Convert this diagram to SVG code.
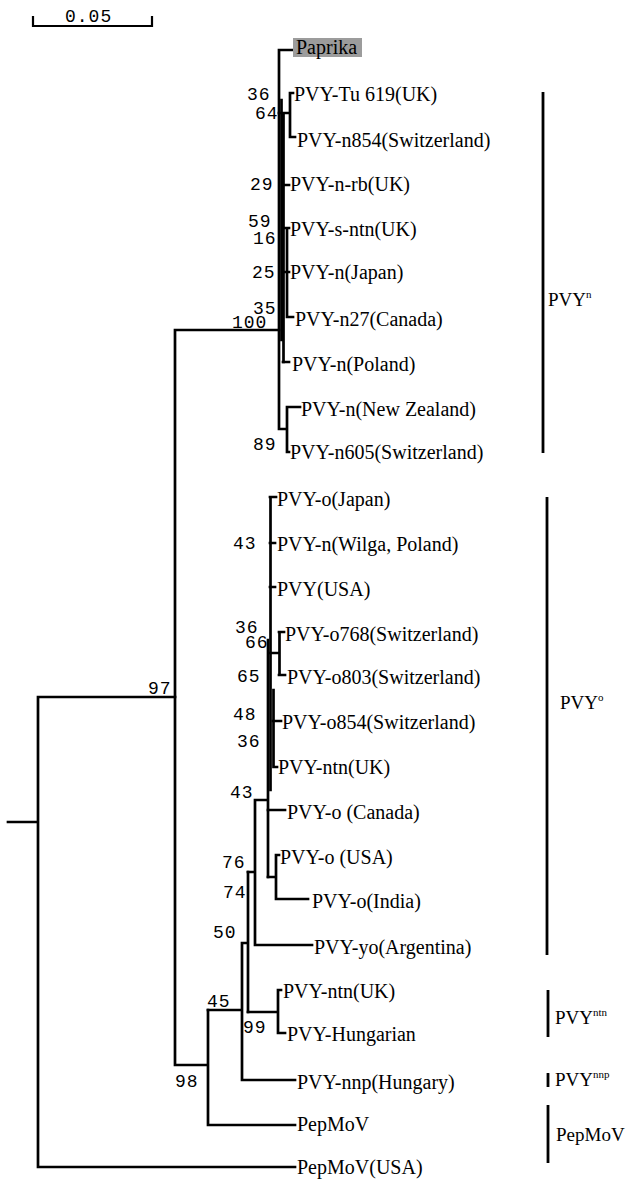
<svg xmlns="http://www.w3.org/2000/svg" width="635" height="1182" viewBox="0 0 635 1182">
<style>
.leaf{font-family:"Liberation Serif","Times New Roman",serif;font-size:20px;fill:#000}
.bs{font-family:"Liberation Mono","Courier New",monospace;font-size:18px;letter-spacing:1px;fill:#000}
.clade{font-family:"Liberation Serif","Times New Roman",serif;font-size:19px;fill:#000}
.sup{font-size:11px}
.tree{fill:none;stroke:#000;stroke-width:2.7;stroke-linecap:square;stroke-linejoin:miter}
.bar{fill:none;stroke:#000;stroke-width:2.8}
</style>
<rect width="635" height="1182" fill="#fff"/>
<g id="scale">
<path d="M33 16V26H152V16" fill="none" stroke="#000" stroke-width="2.2"/>
<text class="bs" x="65" y="22">0.05</text>
</g>
<g id="connectors" class="tree">
<path d="M8 822H38M38 697V1167M38 697H175M38 1167H295"/>
<path d="M175 330V1065M175 330H279M175 1065H208M208 1010V1125M208 1125H295"/>
<path d="M208 1010H242M242 943V1080M242 1080H295M242 943H248M248 872V1012"/>
<path d="M248 1012H278M278 990V1033M278 990H281M278 1033H285"/>
<path d="M248 872H255M255 800V945M255 945H312M255 800H268M268 640V877"/>
<path d="M268 877H276M276 855V899M276 855H279M276 899H308M268 810H285"/>
<path d="M270.5 497V790M270 497H276M270 543H275M270 587H275"/>
<path d="M270 653H279M279.5 632V675M279 632H284M279 675H285"/>
<path d="M273.5 690V767M273 721H281M273.5 767H277"/>
<path d="M279 50V429M279 50H293M279 429H287M287 407V452M287 407H300M287 452H289"/>
<path d="M281.5 100V340M283.5 113V362M279 113H290M290 93V137M290 93H293M290 137H295"/>
<path d="M283 185H289M283 228H289M283 272H289M283 362H289M287 230V317M287 317H293"/>
</g>
<g id="bootstrap">
<text class="bs" x="247" y="100">36</text>
<text class="bs" x="255" y="119">64</text>
<text class="bs" x="250" y="190">29</text>
<text class="bs" x="248" y="227">59</text>
<text class="bs" x="253" y="244">16</text>
<text class="bs" x="252" y="278">25</text>
<text class="bs" x="253" y="314">35</text>
<text class="bs" x="232" y="328">100</text>
<text class="bs" x="253" y="450">89</text>
<text class="bs" x="233" y="549">43</text>
<text class="bs" x="235" y="633">36</text>
<text class="bs" x="245" y="648">66</text>
<text class="bs" x="237" y="682">65</text>
<text class="bs" x="233" y="720">48</text>
<text class="bs" x="237" y="747">36</text>
<text class="bs" x="230" y="798">43</text>
<text class="bs" x="222" y="868">76</text>
<text class="bs" x="223" y="898">74</text>
<text class="bs" x="213" y="938">50</text>
<text class="bs" x="207" y="1007">45</text>
<text class="bs" x="243" y="1033">99</text>
<text class="bs" x="175" y="1087">98</text>
<text class="bs" x="148" y="694">97</text>
</g>
<g id="leaf-paprika"><rect x="293" y="38" width="69" height="19" fill="#9c9c9c"/><text class="leaf" x="296" y="54" fill="#222">Paprika</text></g>
<g id="leaf-tu619"><text class="leaf" x="294" y="101">PVY-Tu 619(UK)</text></g>
<g id="leaf-n854"><text class="leaf" x="297" y="147">PVY-n854(Switzerland)</text></g>
<g id="leaf-nrb"><text class="leaf" x="290" y="191">PVY-n-rb(UK)</text></g>
<g id="leaf-sntn"><text class="leaf" x="290" y="236">PVY-s-ntn(UK)</text></g>
<g id="leaf-njapan"><text class="leaf" x="290" y="279">PVY-n(Japan)</text></g>
<g id="leaf-n27"><text class="leaf" x="295" y="326">PVY-n27(Canada)</text></g>
<g id="leaf-npoland"><text class="leaf" x="292" y="371">PVY-n(Poland)</text></g>
<g id="leaf-nnz"><text class="leaf" x="301" y="416">PVY-n(New Zealand)</text></g>
<g id="leaf-n605"><text class="leaf" x="290" y="459">PVY-n605(Switzerland)</text></g>
<g id="leaf-ojapan"><text class="leaf" x="277" y="506">PVY-o(Japan)</text></g>
<g id="leaf-wilga"><text class="leaf" x="277" y="551">PVY-n(Wilga, Poland)</text></g>
<g id="leaf-usa"><text class="leaf" x="277" y="596">PVY(USA)</text></g>
<g id="leaf-o768"><text class="leaf" x="285" y="641">PVY-o768(Switzerland)</text></g>
<g id="leaf-o803"><text class="leaf" x="287" y="684">PVY-o803(Switzerland)</text></g>
<g id="leaf-o854"><text class="leaf" x="282" y="729">PVY-o854(Switzerland)</text></g>
<g id="leaf-ntnuk1"><text class="leaf" x="278" y="774">PVY-ntn(UK)</text></g>
<g id="leaf-ocanada"><text class="leaf" x="287" y="819">PVY-o (Canada)</text></g>
<g id="leaf-ousa"><text class="leaf" x="280" y="864">PVY-o (USA)</text></g>
<g id="leaf-oindia"><text class="leaf" x="312" y="908">PVY-o(India)</text></g>
<g id="leaf-yo"><text class="leaf" x="314" y="954">PVY-yo(Argentina)</text></g>
<g id="leaf-ntnuk2"><text class="leaf" x="283" y="998">PVY-ntn(UK)</text></g>
<g id="leaf-hungarian"><text class="leaf" x="287" y="1041">PVY-Hungarian</text></g>
<g id="leaf-nnp"><text class="leaf" x="297" y="1089">PVY-nnp(Hungary)</text></g>
<g id="leaf-pepmov"><text class="leaf" x="297" y="1131">PepMoV</text></g>
<g id="leaf-pepmovusa"><text class="leaf" x="297" y="1174">PepMoV(USA)</text></g>
<g id="clade-n"><path class="bar" d="M543 92V453"/><text class="clade" x="548" y="306">PVY<tspan class="sup" dy="-8">n</tspan></text></g>
<g id="clade-o"><path class="bar" d="M547 497V955"/><text class="clade" x="560" y="709">PVY<tspan class="sup" dy="-8">o</tspan></text></g>
<g id="clade-ntn"><path class="bar" d="M548 990V1037"/><text class="clade" x="555" y="1024">PVY<tspan class="sup" dy="-8">ntn</tspan></text></g>
<g id="clade-nnp"><path class="bar" d="M548 1073V1087"/><text class="clade" x="555" y="1086">PVY<tspan class="sup" dy="-8">nnp</tspan></text></g>
<g id="clade-pepmov"><path class="bar" d="M548 1105V1163"/><text class="clade" x="556" y="1141">PepMoV</text></g>
</svg>
